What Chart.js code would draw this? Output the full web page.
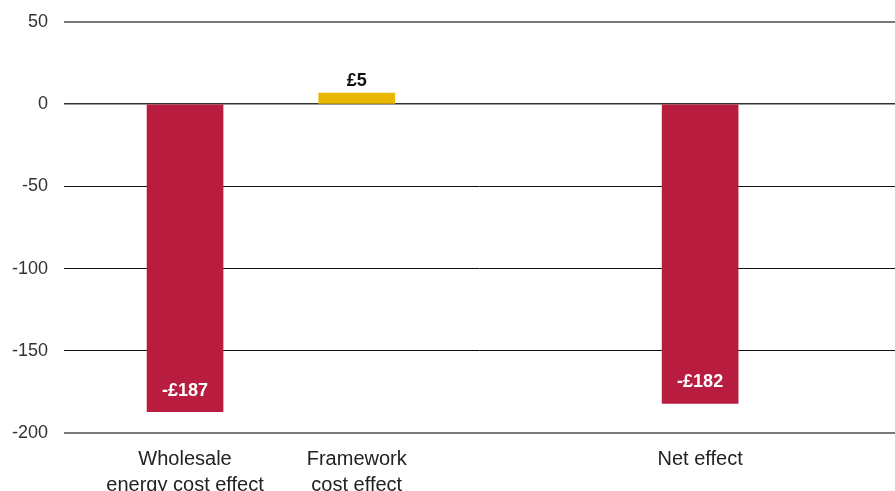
<!DOCTYPE html>
<html>
<head>
<meta charset="utf-8">
<script src="https://cdn.jsdelivr.net/npm/chart.js@4"></script>
<style>
  html, body { margin: 0; padding: 0; background: #fff; }
  #wrap { width: 895px; height: 491px; }
</style>
</head>
<body>
<div id="wrap"><canvas id="effectChart"></canvas></div>
<script>
// categories (empty slot keeps the gap before net effect)
const categories = [
    ['Wholesale', 'energy cost effect'],
    ['Framework', 'cost effect'],
    '',
    'Net effect'
];
const values = [-187, 5, null, -182];
const barColors = ['#b81d3f', '#e9b700', '#b81d3f', '#b81d3f'];
const yTicks = [50, 0, -50, -100, -150, -200];

const FONT = '"Liberation Sans", Arial, Helvetica, sans-serif';

// labels on the bars
const barLabels = {
    id: 'barLabels',
    afterDatasetsDraw(chart) {
        const ctx = chart.ctx;
        const meta = chart.getDatasetMeta(0);
        ctx.save();
        ctx.font = 'bold 18px ' + FONT;
        ctx.textAlign = 'center';
        ctx.textBaseline = 'middle';
        meta.data.forEach((bar, i) => {
            const v = values[i];
            if (v === null) return;
            const txt = (v < 0 ? '-£' : '£') + Math.abs(v);
            if (v < 0) {
                ctx.fillStyle = '#ffffff';
                ctx.fillText(txt, bar.x, bar.y - 21);
            } else {
                ctx.fillStyle = '#111111';
                ctx.fillText(txt, bar.x, bar.y - 12);
            }
        });
        ctx.restore();
    }
};

const gridColor = (c) => {
    const v = c.tick && c.tick.value;
    if (v === 50 || v === -200) return '#7a7a7a';
    if (v === 0) return '#333333';
    return '#111111';
};
const gridWidth = (c) => {
    const v = c.tick && c.tick.value;
    if (v === 50 || v === -200) return 2;
    if (v === 0) return 1.5;
    return 1;
};

new Chart(document.getElementById('effectChart'), {
    type: 'bar',
    data: {
        datasets: [{
            data: values.map((v, i) => ({ x: i, y: v })),
            backgroundColor: barColors,
            barThickness: 76,
            minBarLength: 11,
            borderWidth: 0
        }]
    },
    options: {
        responsive: true,
        maintainAspectRatio: false,
        animation: false,
        layout: { padding: { top: 0, left: 0, right: 0, bottom: 0 } },
        plugins: {
            legend: { display: false },
            tooltip: { enabled: false }
        },
        scales: {
            x: {
                type: 'linear',
                offset: false,
                min: -0.705,
                max: 4.135,
                grid: { display: false },
                border: { display: false },
                afterBuildTicks: (axis) => {
                    axis.ticks = categories
                        .map((c, i) => ({ value: i }))
                        .filter(t => categories[t.value] !== '');
                },
                afterFit: (axis) => { axis.height = 58; },
                ticks: {
                    autoSkip: false,
                    maxRotation: 0,
                    padding: 5,
                    color: '#222222',
                    font: { family: FONT, size: 20, lineHeight: 1.3 },
                    callback: (v) => categories[v]
                }
            },
            y: {
                min: -200,
                max: 50,
                afterBuildTicks: (axis) => {
                    axis.ticks = yTicks.map(v => ({ value: v }));
                },
                afterFit: (axis) => {
                    axis.width = 64;
                    axis.paddingTop = 22;
                },
                border: { display: false },
                grid: {
                    drawTicks: false,
                    color: gridColor,
                    lineWidth: gridWidth
                },
                ticks: {
                    padding: 16,
                    color: '#333333',
                    font: { family: FONT, size: 18 }
                }
            }
        }
    },
    plugins: [barLabels]
});
</script>
</body>
</html>
